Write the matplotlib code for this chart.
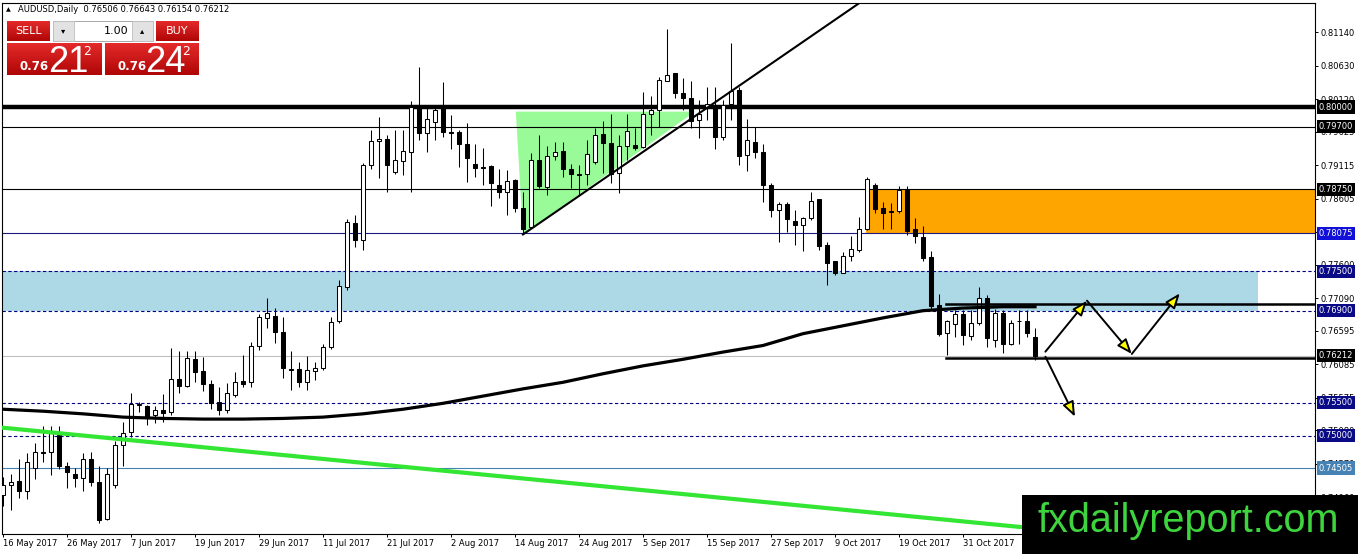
import numpy as np
import matplotlib
matplotlib.use("Agg")
import matplotlib.pyplot as plt
from matplotlib.patches import Rectangle, Polygon

# AUDUSD daily candles, 16 May 2017 .. 13 Nov 2017
open_ = [0.7410, 0.7425, 0.7431, 0.7416, 0.7451, 0.7475, 0.7475, 0.7501, 0.7453, 0.7441,
         0.7436, 0.7464, 0.7430, 0.7373, 0.7425, 0.7486, 0.7505, 0.7547, 0.7545, 0.7531,
         0.7539, 0.7536, 0.7586, 0.7575, 0.7616, 0.7598, 0.7578, 0.7551, 0.7539, 0.7561,
         0.7583, 0.7581, 0.7637, 0.7679, 0.7682, 0.7658, 0.7601, 0.7601, 0.7582, 0.7598,
         0.7602, 0.7634, 0.7675, 0.7726, 0.7823, 0.7797, 0.7911, 0.7948, 0.7952, 0.7901,
         0.7918, 0.7932, 0.8000, 0.7961, 0.7977, 0.8000, 0.7962, 0.7962, 0.7943, 0.7913,
         0.7908, 0.7910, 0.7882, 0.7870, 0.7889, 0.7846, 0.7817, 0.7919, 0.7879, 0.7925,
         0.7933, 0.7905, 0.7898, 0.7898, 0.7917, 0.7959, 0.7945, 0.7899, 0.7940, 0.7942,
         0.7939, 0.7990, 0.7995, 0.8040, 0.8051, 0.8022, 0.8014, 0.7980, 0.7999, 0.8003,
         0.7954, 0.8004, 0.8026, 0.7927, 0.7946, 0.7931, 0.7882, 0.7844, 0.7852, 0.7826,
         0.7821, 0.7831, 0.7860, 0.7790, 0.7766, 0.7748, 0.7773, 0.7782, 0.7815, 0.7881,
         0.7846, 0.7841, 0.7841, 0.7874, 0.7815, 0.7802, 0.7771, 0.7699, 0.7656, 0.7670,
         0.7685, 0.7652, 0.7672, 0.7709, 0.7646, 0.7686, 0.7640, 0.7674, 0.7675, 0.76506]
high = [0.7437, 0.7441, 0.7464, 0.7473, 0.7489, 0.7515, 0.7515, 0.7515, 0.7460, 0.7451,
        0.7474, 0.7475, 0.7453, 0.7450, 0.7491, 0.7521, 0.7565, 0.7551, 0.7546, 0.7545,
        0.7563, 0.7633, 0.7629, 0.7628, 0.7628, 0.7620, 0.7584, 0.7574, 0.7580, 0.7597,
        0.7623, 0.7642, 0.7685, 0.7709, 0.7694, 0.7681, 0.7629, 0.7612, 0.7621, 0.7612,
        0.7639, 0.7681, 0.7737, 0.7830, 0.7835, 0.7915, 0.7965, 0.7985, 0.7957, 0.7965,
        0.7965, 0.8009, 0.8061, 0.8003, 0.8003, 0.8038, 0.7988, 0.7965, 0.7976, 0.7943,
        0.7937, 0.7911, 0.7906, 0.7904, 0.7890, 0.7871, 0.7930, 0.7957, 0.7940, 0.7947,
        0.7947, 0.7913, 0.7912, 0.7950, 0.7968, 0.7979, 0.7990, 0.7957, 0.7989, 0.7968,
        0.8023, 0.8017, 0.8046, 0.8119, 0.8051, 0.8044, 0.8039, 0.8011, 0.8031, 0.8031,
        0.8011, 0.8097, 0.8031, 0.7982, 0.7969, 0.7943, 0.7884, 0.7856, 0.7855, 0.7843,
        0.7833, 0.7871, 0.7860, 0.7795, 0.7766, 0.7780, 0.7804, 0.7832, 0.7894, 0.7884,
        0.7856, 0.7854, 0.7880, 0.7880, 0.7831, 0.7819, 0.7781, 0.7715, 0.7676, 0.7691,
        0.7691, 0.7691, 0.7726, 0.7714, 0.7692, 0.7691, 0.7676, 0.7691, 0.7691, 0.76643]
low = [0.7392, 0.7387, 0.7405, 0.7403, 0.7434, 0.7460, 0.7440, 0.7449, 0.7420, 0.7422,
       0.7415, 0.7423, 0.7367, 0.7371, 0.7420, 0.7454, 0.7498, 0.7536, 0.7516, 0.7519,
       0.7521, 0.7531, 0.7565, 0.7574, 0.7582, 0.7567, 0.7540, 0.7531, 0.7535, 0.7559,
       0.7574, 0.7574, 0.7630, 0.7664, 0.7641, 0.7587, 0.7569, 0.7574, 0.7569, 0.7584,
       0.7599, 0.7631, 0.7672, 0.7722, 0.7787, 0.7782, 0.7905, 0.7892, 0.7871, 0.7898,
       0.7897, 0.7871, 0.7950, 0.7932, 0.7950, 0.7955, 0.7936, 0.7909, 0.7886, 0.7894,
       0.7882, 0.7850, 0.7861, 0.7835, 0.7840, 0.7806, 0.7816, 0.7876, 0.7866, 0.7919,
       0.7894, 0.7876, 0.7866, 0.7881, 0.7914, 0.7900, 0.7884, 0.7869, 0.7919, 0.7935,
       0.7937, 0.7957, 0.7969, 0.8039, 0.8013, 0.7995, 0.7968, 0.7953, 0.7980, 0.7936,
       0.7950, 0.7980, 0.7912, 0.7903, 0.7922, 0.7856, 0.7833, 0.7795, 0.7810, 0.7790,
       0.7781, 0.7828, 0.7782, 0.7729, 0.7744, 0.7747, 0.7766, 0.7780, 0.7813, 0.7838,
       0.7814, 0.7814, 0.7838, 0.7805, 0.7793, 0.7766, 0.7691, 0.7652, 0.7623, 0.7650,
       0.7638, 0.7645, 0.7668, 0.7635, 0.7635, 0.7625, 0.7638, 0.7640, 0.7650, 0.76154]
close = [0.7425, 0.7430, 0.7416, 0.7460, 0.7475, 0.7474, 0.7504, 0.7453, 0.7445, 0.7436,
         0.7464, 0.7429, 0.7371, 0.7441, 0.7486, 0.7504, 0.7548, 0.7548, 0.7527, 0.7539,
         0.7535, 0.7586, 0.7576, 0.7618, 0.7597, 0.7578, 0.7549, 0.7539, 0.7565, 0.7582,
         0.7579, 0.7637, 0.7680, 0.7686, 0.7657, 0.7602, 0.7600, 0.7582, 0.7599, 0.7602,
         0.7635, 0.7673, 0.7727, 0.7825, 0.7797, 0.7912, 0.7948, 0.7952, 0.7911, 0.7919,
         0.7933, 0.8000, 0.7961, 0.7981, 0.7995, 0.7962, 0.7961, 0.7943, 0.7922, 0.7907,
         0.7907, 0.7884, 0.7870, 0.7888, 0.7846, 0.7815, 0.7919, 0.7880, 0.7925, 0.7932,
         0.7905, 0.7898, 0.7897, 0.7928, 0.7957, 0.7945, 0.7898, 0.7941, 0.7963, 0.7938,
         0.7990, 0.7995, 0.8041, 0.8049, 0.8022, 0.8014, 0.7979, 0.7990, 0.8005, 0.7954,
         0.8003, 0.8024, 0.7926, 0.7950, 0.7931, 0.7881, 0.7844, 0.7852, 0.7829, 0.7821,
         0.7831, 0.7857, 0.7788, 0.7763, 0.7748, 0.7773, 0.7784, 0.7815, 0.7890, 0.7845,
         0.7839, 0.7840, 0.7874, 0.7812, 0.7803, 0.7770, 0.7697, 0.7655, 0.7674, 0.7685,
         0.7653, 0.7672, 0.7710, 0.7648, 0.7687, 0.7640, 0.7672, 0.7675, 0.7656, 0.76212]

# moving average read every 5 bars
ma_x = [0, 5, 10, 15, 20, 25, 30, 35, 40, 45, 50, 55, 60, 65, 70, 75, 80, 85, 90, 95,
        100, 105, 110, 115, 120, 125, 129]
ma_y = [0.7540, 0.7537, 0.7533, 0.7528, 0.7526, 0.7525, 0.7525, 0.7526, 0.7528, 0.7533,
        0.7540, 0.7549, 0.7560, 0.7571, 0.7581, 0.7594, 0.7606, 0.7616, 0.7627, 0.7637,
        0.7655, 0.7667, 0.7679, 0.7690, 0.7694, 0.7696, 0.7696]

# drawn objects
trend_x = [65, 110]
trend_y = [0.7806, 0.8183]
green_x = [-0.125, 164]
green_y = [0.7512, 0.7317]
tri_x = [64.1, 65.0, 86.5]
tri_y = [0.7993, 0.7806, 0.7993]
sr_levels = [0.7700, 0.76175]
sr_start = 117.9
arrows = [((130.3, 0.76276), (135.5, 0.77052)),
          ((135.5, 0.77052), (141.1, 0.76241)),
          ((141.1, 0.76241), (147.1, 0.77164)),
          ((130.3, 0.76199), (134.0, 0.75286))]

blue_zone = (0.7690, 0.7750)
orange_zone = (0.78075, 0.7875)

level_vals = [0.80000, 0.79700, 0.78750, 0.78075, 0.77500, 0.76900, 0.76212, 0.75500, 0.75000, 0.74505]
level_box = ['black', 'black', 'black', '#1010d8', '#0a0a86', '#0a0a86', 'black', '#0a0a86', '#0a0a86', '#4682b4']

ytick_vals = [0.81140, 0.80630, 0.80120, 0.79625, 0.79115, 0.78605, 0.78095, 0.77600,
              0.77090, 0.76595, 0.76085, 0.75575, 0.75080, 0.74570, 0.74060]
xtick_pos = [0, 8, 16, 24, 32, 40, 48, 56, 64, 72, 80, 88, 96, 104, 112, 120]
xtick_labels = ['16 May 2017', '26 May 2017', '7 Jun 2017', '19 Jun 2017', '29 Jun 2017',
                '11 Jul 2017', '21 Jul 2017', '2 Aug 2017', '14 Aug 2017', '24 Aug 2017',
                '5 Sep 2017', '15 Sep 2017', '27 Sep 2017', '9 Oct 2017', '19 Oct 2017',
                '31 Oct 2017']

W, H = 1358, 554
fig = plt.figure(figsize=(W / 100, H / 100), dpi=100)
ax = fig.add_axes([2 / W, 20 / H, 1313 / W, 531 / H])
ax.set_xlim(-0.125, 164.0)
ax.set_ylim(0.73501, 0.81583)

# zones
ax.add_patch(Rectangle((-0.125, blue_zone[0]), 157.0, blue_zone[1] - blue_zone[0],
                       fc='#add8e6', ec='none', zorder=1))
ax.add_patch(Rectangle((107.9, orange_zone[0]), 70, orange_zone[1] - orange_zone[0],
                       fc='#ffa500', ec='none', zorder=1))
ax.add_patch(Polygon(list(zip(tri_x, tri_y)), closed=True, fc='#98fb98', ec='none', zorder=1))

# horizontal levels
ax.axhline(0.80000, color='black', lw=3.2, zorder=2)
ax.axhline(0.79700, color='black', lw=0.8, zorder=2)
ax.axhline(0.78750, color='black', lw=0.8, zorder=2)
ax.axhline(0.78075, color='#1a1a80', lw=0.8, zorder=2)
for v in [0.77500, 0.76900, 0.75500, 0.75000]:
    ax.axhline(v, color='#000080', lw=0.8, dashes=(3, 2.2), zorder=2)
ax.axhline(0.74505, color='#4682b4', lw=0.8, zorder=2)
ax.axhline(0.76212, color='#c0c0c0', lw=0.8, zorder=2)

# candles
o = np.array(open_)
c = np.array(close)
x = np.arange(len(c))
up = c >= o
ax.vlines(x, low, high, color='black', lw=0.75, zorder=3)
ax.bar(x, np.abs(c - o), bottom=np.minimum(o, c), width=0.62,
       color=np.where(up, 'white', 'black'), edgecolor='black', linewidth=0.75, zorder=4)

# indicator and drawn lines
ax.plot(ma_x, ma_y, color='black', lw=2.3, zorder=5)
ax.plot(trend_x, trend_y, color='black', lw=1.5, zorder=5)
ax.plot(green_x, green_y, color='#33e633', lw=3, zorder=5)
for v in sr_levels:
    ax.plot([sr_start, 164], [v, v], color='black', lw=1.8, zorder=5)
for start, tip in arrows:
    ax.annotate('', xy=tip, xytext=start, zorder=6,
                arrowprops=dict(arrowstyle='-|>,head_length=0.9,head_width=0.35',
                                fc='yellow', ec='black', lw=1.4, shrinkA=0, shrinkB=0))

# axes
for s in ax.spines.values():
    s.set_linewidth(0.8)
    s.set_color('black')
ax.yaxis.tick_right()
ax.set_yticks(ytick_vals)
ax.set_yticklabels([f'{v:.5f}' for v in ytick_vals])
ax.set_xticks(xtick_pos)
ax.set_xticklabels(xtick_labels, ha='left')
ax.tick_params(axis='y', direction='out', length=2.2, width=0.7, pad=1.8, labelsize=6)
ax.tick_params(axis='x', direction='out', length=2.2, width=0.7, pad=1.5, labelsize=6)

for v, fc in zip(level_vals, level_box):
    ax.text(1.0028, v, f'{v:.5f}', transform=ax.get_yaxis_transform(), fontsize=6,
            color='white', va='center', ha='left', zorder=20, clip_on=False,
            bbox=dict(boxstyle='square,pad=0.25', fc=fc, ec='none'))

# overlay in pixel coordinates: header, trade panel, logo
ov = fig.add_axes([0, 0, 1, 1], zorder=10)
ov.patch.set_alpha(0)
ov.axis('off')

ov.text(6, 10, '\u25b2', fontsize=4.5, va='center', ha='left')
ov.text(18, 10, 'AUDUSD,Daily  0.76506 0.76643 0.76154 0.76212', fontsize=6,
        va='center', ha='left')

ov.add_patch(Rectangle((5, 19), 196, 58, fc='white', ec='none'))
grad = np.linspace(0, 1, 32).reshape(-1, 1)
from matplotlib.colors import LinearSegmentedColormap
reds = LinearSegmentedColormap.from_list('reds', ['#e42a2a', '#b00606'])
for x0, x1 in [(7, 102), (105, 199)]:
    ov.imshow(grad, cmap=reds, extent=(x0, x1, 75, 43), aspect='auto', zorder=2)
for x0, x1 in [(7, 50), (156, 199)]:
    ov.imshow(grad, cmap=reds, extent=(x0, x1, 41, 21), aspect='auto', zorder=2)
ov.add_patch(Rectangle((52.5, 20.5), 100.5, 20.5, fc='white', ec='#a8a8a8', lw=0.7, zorder=2))
ov.add_patch(Rectangle((53, 21), 21, 19.5, fc='#e2e2e2', ec='#bdbdbd', lw=0.6, zorder=3))
ov.add_patch(Rectangle((132, 21), 21, 19.5, fc='#e2e2e2', ec='#bdbdbd', lw=0.6, zorder=3))
ov.text(63.5, 31, '\u25be', fontsize=6, ha='center', va='center', zorder=4)
ov.text(142.5, 31, '\u25b4', fontsize=6, ha='center', va='center', zorder=4)
ov.text(128, 31, '1.00', fontsize=8, ha='right', va='center', zorder=4)
ov.text(28.5, 31, 'SELL', fontsize=8, color='white', ha='center', va='center', zorder=4)
ov.text(177.5, 31, 'BUY', fontsize=8, color='white', ha='center', va='center', zorder=4)

big = ['Liberation Sans Narrow', 'Liberation Sans']
for x_small, x_big, x_sup, digits in [(20, 48, 83, '21'), (117, 145, 182, '24')]:
    ov.text(x_small, 70, '0.76', fontsize=8.5, fontweight='bold', color='white',
            va='baseline', zorder=4)
    ov.text(x_big, 72, digits, fontsize=26, family=big, color='white', va='baseline', zorder=4)
    ov.text(x_sup, 55, '2', fontsize=9, color='white', va='baseline', zorder=4)

ov.add_patch(Rectangle((1022, 495), 336, 59, fc='black', ec='none', zorder=5))
ov.text(1038, 531.5, 'fxdailyreport.com', color='#3ed43e', fontsize=28.5,
        family='Liberation Sans', va='baseline', ha='left', zorder=6)

ov.set_xlim(0, W)
ov.set_ylim(H, 0)

fig.savefig('out.png', dpi=100)
